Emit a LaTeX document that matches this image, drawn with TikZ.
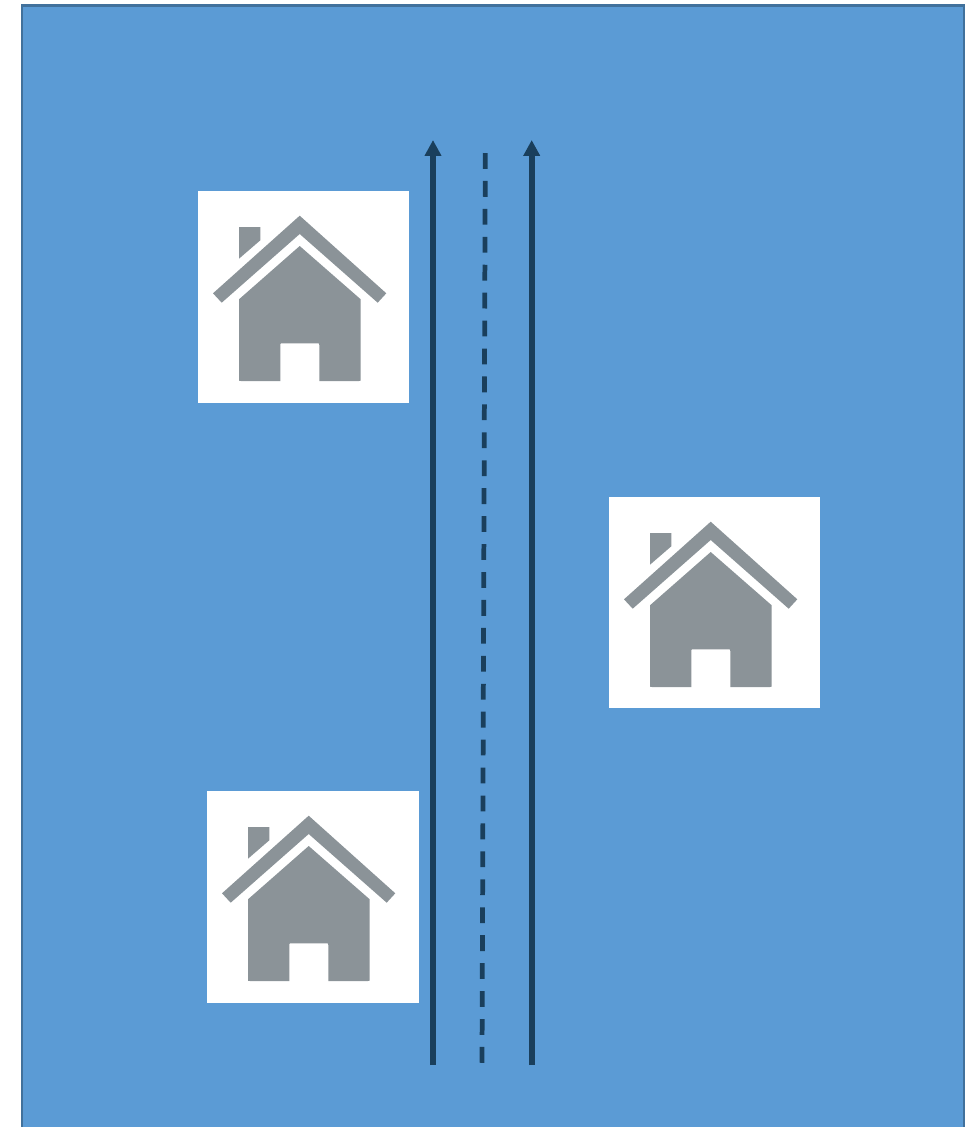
\documentclass[tikz,border=0pt]{standalone}
\usepackage{tikz}
\usetikzlibrary{arrows.meta}
\definecolor{mField}{HTML}{5B9BD5}
\definecolor{mBorder}{HTML}{41719C}
\definecolor{mRoad}{HTML}{1A3F5C}
\definecolor{mHouse}{HTML}{8B9398}
\tikzset{
  homeicon/.pic={
    \fill[mHouse] (101.7,24.7) -- (188.3,102.3) -- (179.7,111.7) -- (101.7,43) -- (23.7,111.7) -- (15,102.3) -- cycle;
    \fill[mHouse] (41,36) -- (62.3,36) -- (62.3,49.3) -- (41,67.7) -- cycle;
    \fill[mHouse] (101.7,55) -- (162.7,108.3) -- (162.7,188) .. controls (162.7,190) .. (160.7,190)
      -- (121.3,190) -- (121.3,154.3) .. controls (121.3,152.3) .. (119.3,152.3)
      -- (84.3,152.3) .. controls (82.3,152.3) .. (82.3,154.3)
      -- (82.3,190) -- (43,190) .. controls (41,190) .. (41,188) -- (41,108.3) -- cycle;
  }
}
\begin{document}
\begin{tikzpicture}[x=0.02cm, y=-0.02cm,
      housebox/.style={fill=white, inner sep=0pt, minimum width=4.22cm, minimum height=4.24cm, anchor=north west},
      lane/.style={draw=mRoad, line width=3.3pt, -{Triangle[length=9pt, width=9pt]}},
      divider/.style={draw=mRoad, line width=2.7pt, dash pattern=on 9pt off 6.9pt}]
    \useasboundingbox (0,0) rectangle (980,1127);
    \draw[fill=mField, draw=mBorder, line width=1.7pt] (22,5) rectangle (964,1140);
    % houses
    \node[housebox] (houseA) at (198,191) {};
    \node[housebox, minimum height=4.22cm] (houseB) at (609,497) {};
    \node[housebox, minimum width=4.24cm] (houseC) at (207,791) {};
    \pic at (houseA.north west) {homeicon};
    \pic at (houseB.north west) {homeicon};
    \pic at (houseC.north west) {homeicon};
    % road
    \coordinate (laneAs) at (433,1065);
    \coordinate (laneAe) at (433,140);
    \coordinate (laneBs) at (531.7,1065);
    \coordinate (laneBe) at (531.7,140);
    \coordinate (midS) at (485.3,153);
    \coordinate (midE) at (482,1065);
    \draw[lane] (laneAs) -- (laneAe);
    \draw[lane] (laneBs) -- (laneBe);
    \draw[divider] (midS) -- (midE);
\end{tikzpicture}
\end{document}
